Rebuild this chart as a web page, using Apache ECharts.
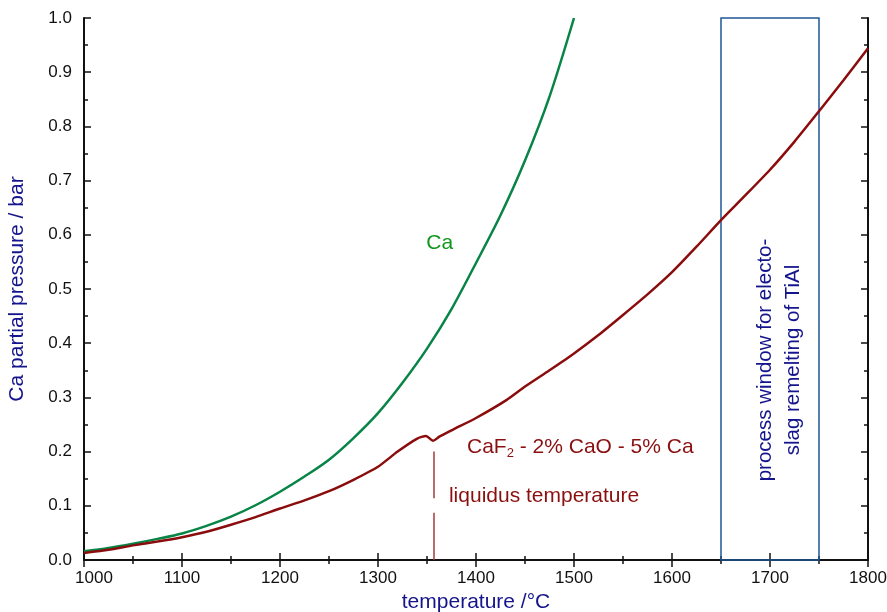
<!DOCTYPE html>
<html><head><meta charset="utf-8">
<script src="https://cdn.jsdelivr.net/npm/echarts@6/dist/echarts.min.js"></script>
<style>html,body{margin:0;padding:0;background:#fff}#c{width:887px;height:612px}</style>
</head><body><div id="c"></div>
<script>
// Ca (pure) vapour pressure
const caT = [1000,1025,1050,1075,1100,1125,1150,1175,1200,1225,1250,1275,1300,1325,1350,1375,1400,1425,1450,1475,1500];
const caP = [0.016,0.022,0.030,0.039,0.049,0.063,0.080,0.101,0.126,0.154,0.185,0.225,0.271,0.327,0.390,0.463,0.548,0.636,0.737,0.855,1.000];
// CaF2 - 2% CaO - 5% Ca
const slagT = [1000,1025,1050,1075,1100,1125,1150,1175,1200,1225,1250,1275,1300,1320,1340,1349,1356,1363,1377,1400,1431,1450,1475,1500,1525,1550,1575,1600,1625,1650,1675,1700,1725,1750,1775,1800];
const slagP = [0.013,0.019,0.027,0.034,0.042,0.052,0.065,0.079,0.095,0.110,0.127,0.148,0.172,0.200,0.224,0.229,0.220,0.228,0.241,0.262,0.295,0.320,0.350,0.381,0.415,0.452,0.490,0.531,0.578,0.627,0.673,0.720,0.772,0.828,0.885,0.944];
const xTicks = [1000,1100,1200,1300,1400,1500,1600,1700,1800];
const yTicks = [0.0,0.1,0.2,0.3,0.4,0.5,0.6,0.7,0.8,0.9,1.0];
const liquidusT = 1357;
const liquidusSegs = [[0.2,0.114],[0.087,0.0]];
const windowT = [1650,1750];
const windowP = [0,1];

const FONT = '"Liberation Sans", Arial, sans-serif';
const chart = echarts.init(document.getElementById('c'), null, {renderer:'canvas'});
const axisCommon = {
  axisLine:{show:true,lineStyle:{color:'#111',width:2}},
  axisTick:{show:true,inside:true,length:7,lineStyle:{color:'#111',width:1.5}},
  minorTick:{show:true,splitNumber:2,length:4,lineStyle:{color:'#111',width:1.5}},
  splitLine:{show:false}
};
chart.setOption({
  animation:false,
  backgroundColor:'#fff',
  grid:{left:84,right:19,top:18,bottom:52,containLabel:false,outerBoundsMode:'none'},
  xAxis:[
    Object.assign({type:'value',min:xTicks[0],max:xTicks[xTicks.length-1],interval:100,position:'bottom',
      name:'temperature /°C',nameLocation:'middle',nameGap:31,
      nameTextStyle:{color:'#14148c',fontSize:21,fontFamily:FONT},
      axisLabel:{color:'#111',fontSize:17,fontFamily:FONT,margin:10,
        formatter:v=> v===xTicks[0] ? '{a|'+v+'}' : String(v),
        rich:{a:{fontSize:17,fontFamily:FONT,color:'#111',padding:[0,0,0,20]}}}},axisCommon),
    Object.assign({type:'value',min:xTicks[0],max:xTicks[xTicks.length-1],interval:100,position:'top',axisLabel:{show:false}},axisCommon)
  ],
  yAxis:[
    Object.assign({type:'value',min:0,max:1,interval:0.1,position:'left',
      name:'Ca partial pressure / bar',nameLocation:'middle',nameGap:56,
      nameTextStyle:{color:'#14148c',fontSize:21,fontFamily:FONT},
      axisLabel:{color:'#111',fontSize:17,fontFamily:FONT,margin:12,formatter:v=>v.toFixed(1)}},axisCommon),
    Object.assign({type:'value',min:0,max:1,interval:0.1,position:'right',axisLabel:{show:false}},axisCommon)
  ],
  series:[
    {type:'line',name:'Ca',data:caT.map((t,i)=>[t,caP[i]]),showSymbol:false,smooth:0.3,
     lineStyle:{color:'#078446',width:2.5},z:3,
     markArea:{silent:true,itemStyle:{color:'rgba(0,0,0,0)',borderColor:'#1f5796',borderWidth:1.5},
       data:[[{xAxis:windowT[0],yAxis:windowP[0]},{xAxis:windowT[1],yAxis:windowP[1]}]]}},
    {type:'line',name:'slag',data:slagT.map((t,i)=>[t,slagP[i]]),showSymbol:false,smooth:0.2,
     lineStyle:{color:'#8a0c0c',width:2.5},z:3,
     markLine:{silent:true,symbol:['none','none'],label:{show:false},
       lineStyle:{color:'#a33a3a',width:1.5,type:'solid'},
       data:liquidusSegs.map(s=>[{coord:[liquidusT,s[0]]},{coord:[liquidusT,s[1]]}])}},
    {type:'scatter',symbolSize:0,silent:true,z:5,itemStyle:{opacity:1},
     data:[
       {value:[1363,0.585],label:{show:true,position:'inside',formatter:'Ca',color:'#12961e',fontSize:21,fontFamily:FONT}},
       {value:[1390.8,0.2085],label:{show:true,position:'right',distance:0,formatter:'CaF{s|2} - 2% CaO - 5% Ca',color:'#8a1010',fontSize:21,fontFamily:FONT,
         rich:{s:{fontSize:13,fontFamily:FONT,color:'#8a1010',padding:[12,0,0,0]}}}},
       {value:[1372.4,0.118],label:{show:true,position:'right',distance:0,formatter:'liquidus temperature',color:'#8a1010',fontSize:21,fontFamily:FONT}},
       {value:[1710,0.369],label:{show:true,position:'inside',rotate:90,align:'center',verticalAlign:'middle',lineHeight:28,
         formatter:'process window for electo-\nslag remelting of TiAl',color:'#14148c',fontSize:20.5,fontFamily:FONT}}
     ]}
  ]
});
</script></body></html>
